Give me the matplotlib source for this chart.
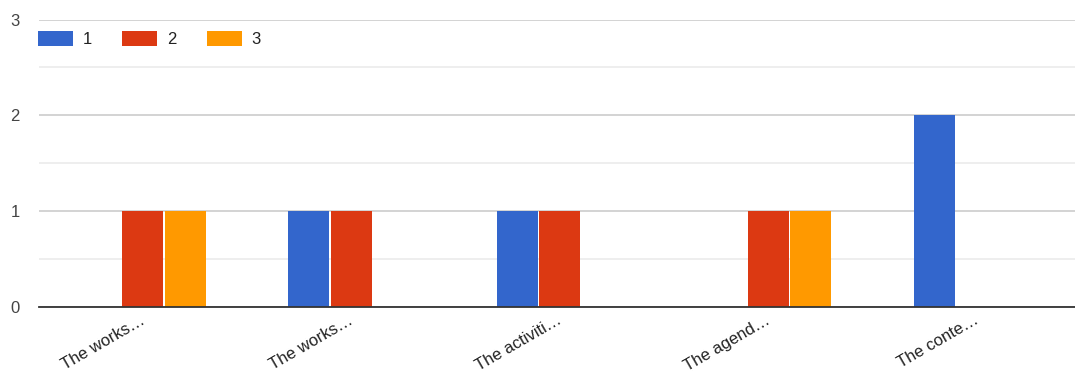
import matplotlib
matplotlib.use("Agg")
import matplotlib.pyplot as plt
import matplotlib.transforms as mtransforms
import numpy as np
from matplotlib.patches import Patch

categories = ["The works…", "The works…", "The activiti…", "The agend…", "The conte…"]
series_names = ["1", "2", "3"]
values_1 = [0, 1, 1, 0, 2]
values_2 = [1, 1, 1, 1, 0]
values_3 = [1, 0, 0, 1, 0]
colors = ["#3366CC", "#DC3912", "#FF9900"]

plt.rcParams['font.family'] = ['Liberation Sans', 'DejaVu Sans']

fig = plt.figure(figsize=(10.75, 3.75), dpi=100)
ax = fig.add_axes([38.5/1075, 1-307/375, (1081-38.5)/1075, (307-19.5)/375])

x = np.arange(len(categories))
step = 0.204
width = 0.197
for i, (vals, c) in enumerate(zip([values_1, values_2, values_3], colors)):
    ax.bar(x + (i-1)*step, vals, width=width, color=c, zorder=3)

ax.set_xlim(-0.5, len(categories)-0.5)
ax.set_ylim(0, 3)
ax.set_yticks([0, 1, 2, 3])
ax.set_yticks([0.5, 1.5, 2.5], minor=True)
ax.grid(axis='y', which='major', color='#cccccc', linewidth=1.2, zorder=0)
ax.grid(axis='y', which='minor', color='#ebebeb', linewidth=1.2, zorder=0)
for s in ['top', 'right', 'left']:
    ax.spines[s].set_visible(False)
ax.spines['bottom'].set_color('#333333')
ax.spines['bottom'].set_linewidth(1.3)
ax.spines['bottom'].set_zorder(4)
ax.tick_params(axis='both', which='both', length=0)
ax.tick_params(axis='y', labelsize=12, labelcolor='#444444', pad=13.5)
ax.set_xticks(x)
ax.set_xticklabels(categories, rotation=30, ha='right', rotation_mode='anchor',
                   fontsize=12, color='#222222')
ax.tick_params(axis='x', pad=4)
offset = mtransforms.ScaledTranslation(-3/100, 0, fig.dpi_scale_trans)
for lbl in ax.get_xticklabels():
    lbl.set_transform(lbl.get_transform() + offset)

handles = [Patch(facecolor=c, label=n) for c, n in zip(colors, series_names)]
ax.legend(handles=handles, loc='center left', ncol=3, frameon=False,
          bbox_to_anchor=(38/1075, 1-39/375), bbox_transform=fig.transFigure,
          borderaxespad=0, borderpad=0, fontsize=12, handlelength=2.1,
          handleheight=0.96, handletextpad=0.6, columnspacing=1.8,
          labelcolor='#222222')

fig.savefig("out.png", dpi=100)
